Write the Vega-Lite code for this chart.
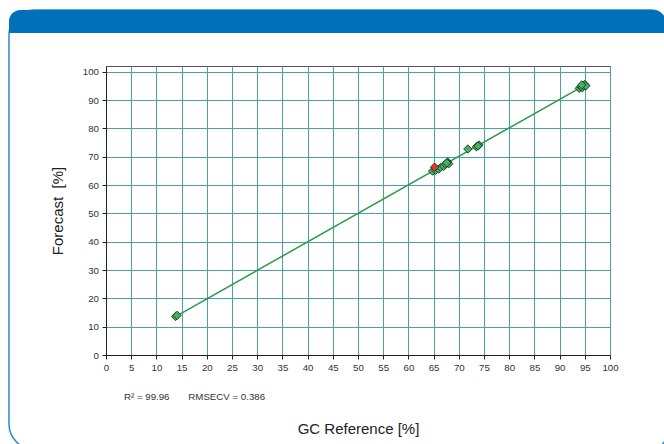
{
  "$schema": "https://vega.github.io/schema/vega-lite/v6.json",
  "width": 504,
  "height": 289,
  "autosize": {"type": "none"},
  "padding": {"left": 106, "top": 66, "right": 54, "bottom": 89},
  "background": "white",
  "config": {
    "font": "Liberation Sans",
    "view": {"stroke": "#555555", "strokeWidth": 1}
  },
  "datasets": {
    "samples": [
      {"gc": 13.8, "forecast": 13.6, "group": "sample"},
      {"gc": 14.1, "forecast": 14.0, "group": "sample"},
      {"gc": 64.8, "forecast": 64.9, "group": "sample"},
      {"gc": 65.4, "forecast": 65.2, "group": "sample"},
      {"gc": 66.0, "forecast": 65.6, "group": "sample"},
      {"gc": 66.4, "forecast": 66.2, "group": "sample"},
      {"gc": 67.0, "forecast": 66.6, "group": "sample"},
      {"gc": 67.4, "forecast": 67.3, "group": "sample"},
      {"gc": 67.8, "forecast": 68.1, "group": "sample"},
      {"gc": 68.0, "forecast": 67.5, "group": "sample"},
      {"gc": 67.6, "forecast": 67.8, "group": "sample"},
      {"gc": 71.8, "forecast": 72.7, "group": "sample"},
      {"gc": 73.5, "forecast": 73.5, "group": "sample"},
      {"gc": 74.0, "forecast": 74.1, "group": "sample"},
      {"gc": 73.8, "forecast": 73.8, "group": "sample"},
      {"gc": 93.9, "forecast": 94.1, "group": "sample"},
      {"gc": 94.2, "forecast": 94.7, "group": "sample"},
      {"gc": 94.5, "forecast": 94.3, "group": "sample"},
      {"gc": 94.7, "forecast": 95.1, "group": "sample"},
      {"gc": 95.0, "forecast": 95.5, "group": "sample"},
      {"gc": 95.2, "forecast": 95.0, "group": "sample"},
      {"gc": 94.4, "forecast": 95.3, "group": "sample"},
      {"gc": 65.2, "forecast": 66.3, "group": "outlier"}
    ]
  },
  "layer": [
    {
      "data": {"values": [{}]},
      "mark": {"type": "rect", "filled": false, "stroke": "#2b88cf", "strokeWidth": 1.5, "cornerRadiusTopLeft": 25, "cornerRadiusBottomLeft": 25, "cornerRadiusTopRight": 16, "cornerRadiusBottomRight": 16, "clip": false},
      "encoding": {
        "x": {"datum": -19.25, "type": "quantitative"},
        "x2": {"datum": 111.3},
        "y": {"datum": 121.77, "type": "quantitative"},
        "y2": {"datum": -33.2}
      }
    },
    {
      "data": {"values": [{}]},
      "mark": {"type": "rect", "fill": "#0070BA", "cornerRadiusTopLeft": 25, "cornerRadiusTopRight": 16, "clip": false},
      "encoding": {
        "x": {"datum": -19.25, "type": "quantitative"},
        "x2": {"datum": 110.9},
        "y": {"datum": 121.77, "type": "quantitative"},
        "y2": {"datum": 113.65}
      }
    },
    {
      "data": {"name": "samples"},
      "transform": [{"regression": "forecast", "on": "gc"}],
      "mark": {"type": "line", "color": "#2a9a48", "strokeWidth": 1.5},
      "encoding": {
        "x": {"field": "gc", "type": "quantitative"},
        "y": {"field": "forecast", "type": "quantitative"}
      }
    },
    {
      "data": {"name": "samples"},
      "mark": {"type": "point", "shape": "diamond", "filled": true, "size": 70, "opacity": 1, "stroke": "#1a3a1a", "strokeWidth": 0.9},
      "encoding": {
        "x": {
          "field": "gc", "type": "quantitative",
          "scale": {"domain": [0, 100], "nice": false, "zero": false},
          "axis": {
            "values": [0, 5, 10, 15, 20, 25, 30, 35, 40, 45, 50, 55, 60, 65, 70, 75, 80, 85, 90, 95, 100],
            "tickCount": 40,
            "title": "GC Reference [%]",
            "grid": true, "gridColor": "#4aa3a3", "gridOpacity": 1,
            "tickSize": 4, "tickColor": "#222222", "domainColor": "#222222",
            "labelPadding": 3, "labelFontSize": 9.7, "labelColor": "#333333", "labelFlush": false, "labelOverlap": false,
            "titleFontSize": 15, "titleFontWeight": "normal", "titleColor": "#222222", "titlePadding": 50
          }
        },
        "y": {
          "field": "forecast", "type": "quantitative",
          "scale": {"domain": [0, 102], "nice": false, "zero": false},
          "axis": {
            "values": [0, 10, 20, 30, 40, 50, 60, 70, 80, 90, 100],
            "tickCount": 30,
            "title": "Forecast\u00a0\u00a0[%]",
            "grid": true, "gridColor": "#4aa3a3", "gridOpacity": 1,
            "tickSize": 4, "tickColor": "#222222", "domainColor": "#222222",
            "labelPadding": 3.5, "labelFontSize": 9.7, "labelColor": "#333333", "labelFlush": false, "labelOverlap": false,
            "titleFontSize": 15, "titleFontWeight": "normal", "titleColor": "#222222", "titlePadding": 17
          }
        },
        "color": {
          "field": "group", "type": "nominal",
          "scale": {"domain": ["sample", "outlier"], "range": ["#45b065", "#e53524"]},
          "legend": null
        },
        "order": {"field": "group", "sort": "descending"}
      }
    },
    {
      "data": {"values": [{}]},
      "mark": {"type": "text", "align": "left", "baseline": "middle", "fontSize": 9.7, "color": "#333333", "text": "R² = 99.96\u00a0\u00a0\u00a0\u00a0\u00a0\u00a0\u00a0RMSECV = 0.386", "clip": false},
      "encoding": {
        "x": {"datum": 3.57, "type": "quantitative"},
        "y": {"datum": -14.8, "type": "quantitative"}
      }
    }
  ]
}
